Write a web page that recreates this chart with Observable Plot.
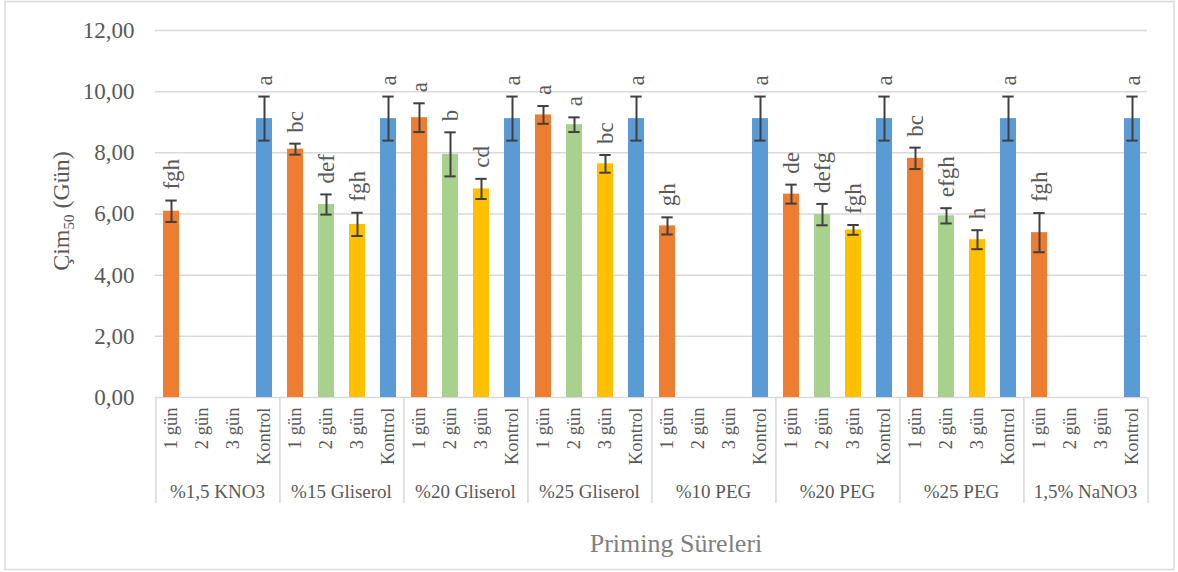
<!DOCTYPE html>
<html>
<head>
<meta charset="utf-8">
<script src="https://cdn.jsdelivr.net/npm/d3@7"></script>
<script src="https://cdn.jsdelivr.net/npm/@observablehq/plot@0.6"></script>
<style>
  html, body { margin: 0; padding: 0; background: #ffffff; }
  #chart svg { display: block; }
</style>
</head>
<body>
<div id="chart"></div>
<script>
// Priming treatments (outer categories) and priming durations (inner categories)
const groups = ["%1,5 KNO3", "%15 Gliserol", "%20 Gliserol", "%25 Gliserol", "%10 PEG", "%20 PEG", "%25 PEG", "1,5% NaNO3"];
const durations = ["1 gün", "2 gün", "3 gün", "Kontrol"];

// Mean germination time (Çim50, days), standard errors and significance letters per duration
const day1Values  = [6.09, 8.12, 9.15, 9.24, 5.61, 6.65, 7.82, 5.39];
const day1Errors  = [0.35, 0.18, 0.47, 0.29, 0.28, 0.31, 0.35, 0.64];
const day1Letters = ["fgh", "bc", "a", "a", "gh", "de", "bc", "fgh"];

const day2Values  = [null, 6.31, 7.95, 8.92, null, 5.98, 5.94, null];
const day2Errors  = [null, 0.33, 0.72, 0.24, null, 0.35, 0.25, null];
const day2Letters = [null, "def", "b", "a", null, "defg", "efgh", null];

const day3Values  = [null, 5.66, 6.82, 7.64, null, 5.48, 5.16, null];
const day3Errors  = [null, 0.38, 0.33, 0.29, null, 0.16, 0.31, null];
const day3Letters = [null, "fgh", "cd", "bc", null, "fgh", "h", null];

const controlValues  = [9.12, 9.12, 9.12, 9.12, 9.12, 9.12, 9.12, 9.12];
const controlErrors  = [0.72, 0.72, 0.72, 0.72, 0.72, 0.72, 0.72, 0.72];
const controlLetters = ["a", "a", "a", "a", "a", "a", "a", "a"];

const yTicks = [0, 2, 4, 6, 8, 10, 12];
const seriesColors = ["#ED7D31", "#A9D18E", "#FFC000", "#5B9BD5"];

// Long table: one row per drawn bar
const series = [
  [day1Values, day1Errors, day1Letters],
  [day2Values, day2Errors, day2Letters],
  [day3Values, day3Errors, day3Letters],
  [controlValues, controlErrors, controlLetters]
];
const rows = [];
groups.forEach((g, gi) => {
  series.forEach(([vals, errs, lets], di) => {
    if (vals[gi] == null) return;
    rows.push({
      group: g,
      duration: durations[di],
      value: vals[gi],
      lo: vals[gi] - errs[gi],
      hi: vals[gi] + errs[gi],
      letter: lets[gi]
    });
  });
});

const W = 1178, H = 572;
const mTop = 30, mRight = 29, mBottom = 175, mLeft = 152;
const step = (W - mLeft - mRight) / groups.length / durations.length;
const grey = "#595959";
const lineGrey = "#d9d9d9";
const fmt = d => d.toFixed(2).replace(".", ",");

const chart = Plot.plot({
  width: W,
  height: H,
  marginTop: mTop,
  marginRight: mRight,
  marginBottom: mBottom,
  marginLeft: mLeft,
  style: {
    fontFamily: "'Liberation Serif', 'Times New Roman', serif",
    color: grey,
    background: "#ffffff",
    overflow: "visible"
  },
  fx: {domain: groups, padding: 0},
  x: {domain: durations, paddingInner: 0.486, paddingOuter: 0.243},
  y: {domain: [0, 12]},
  color: {domain: durations, range: seriesColors},
  marks: [
    Plot.gridY(yTicks, {stroke: lineGrey, strokeOpacity: 1, strokeWidth: 1.5}),
    Plot.axisY({ticks: yTicks, tickFormat: fmt, tickSize: 0, tickPadding: 21, fontSize: 23, label: null}),
    Plot.axisX({tickRotate: -90, tickSize: 0, tickPadding: 10, fontSize: 18.5, label: null}),
    Plot.axisFx({anchor: "bottom", tickSize: 0, tickPadding: 87, fontSize: 19, label: null}),
    // group separators below the baseline
    Plot.ruleX(groups, {fx: d => d, x: () => durations[0], dx: -step / 2, y1: 0, y2: -3.47, stroke: lineGrey, strokeWidth: 1.5}),
    Plot.ruleX([groups[groups.length - 1]], {fx: d => d, x: () => durations[durations.length - 1], dx: step / 2, y1: 0, y2: -3.47, stroke: lineGrey, strokeWidth: 1.5}),
    Plot.barY(rows, {fx: "group", x: "duration", y: "value", fill: "duration"}),
    // error bars
    Plot.ruleX(rows, {fx: "group", x: "duration", y1: "lo", y2: "hi", stroke: "#404040", strokeWidth: 2}),
    Plot.tickY(rows, {fx: "group", x: "duration", y: "lo", stroke: "#404040", strokeWidth: 2, insetLeft: 2.3, insetRight: 2.3}),
    Plot.tickY(rows, {fx: "group", x: "duration", y: "hi", stroke: "#404040", strokeWidth: 2, insetLeft: 2.3, insetRight: 2.3}),
    // significance letters
    Plot.text(rows, {fx: "group", x: "duration", y: "hi", text: "letter", rotate: -90, textAnchor: "start", lineAnchor: "middle", dy: -11, fontSize: 23, fill: grey})
  ]
});

const svg = d3.select(chart);

// outer chart border
svg.insert("rect", ":first-child")
  .attr("x", 5).attr("y", 1.5)
  .attr("width", 1169).attr("height", 568)
  .attr("fill", "none")
  .attr("stroke", lineGrey)
  .attr("stroke-width", 1.5);

// y axis title with subscript
const yTitle = svg.append("text")
  .attr("transform", "translate(61,211) rotate(-90)")
  .attr("text-anchor", "middle")
  .attr("dy", "0.35em")
  .attr("fill", grey)
  .attr("font-size", 24);
yTitle.append("tspan").text("Çim");
yTitle.append("tspan").attr("font-size", 15).attr("dy", 5).text("50");
yTitle.append("tspan").attr("dy", -5).text(" (Gün)");

// x axis title
svg.append("text")
  .attr("x", 676).attr("y", 552)
  .attr("text-anchor", "middle")
  .attr("fill", "#7f7f7f")
  .attr("font-size", 26)
  .text("Priming Süreleri");

document.getElementById("chart").appendChild(chart);
</script>
</body>
</html>
